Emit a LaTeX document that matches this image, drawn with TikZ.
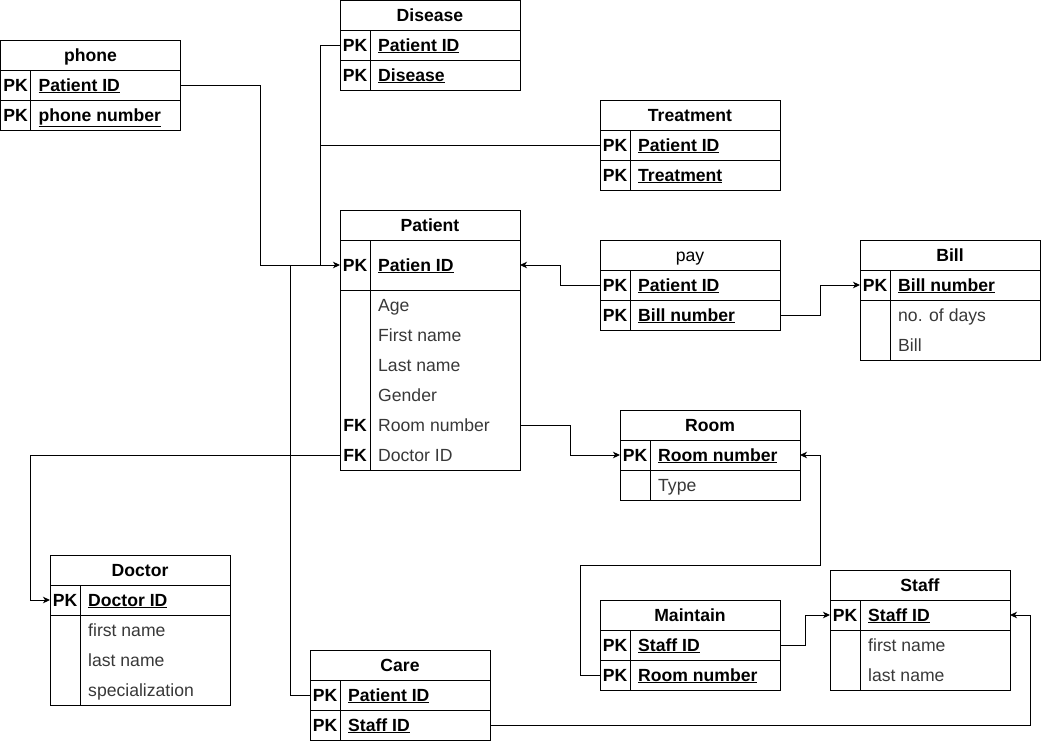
\documentclass[tikz,border=0pt]{standalone}
\usepackage{fontspec}
\setmainfont{Liberation Sans}
\usetikzlibrary{arrows.meta}
\newcommand\dfs{\fontsize{17.6}{20}\selectfont}
\tikzset{
  tbl/.style={line width=1pt},
  rowbox/.style={minimum width=180pt, minimum height=30pt, inner sep=0pt, outer sep=0pt},
  txt/.style={inner sep=0pt, text height=16pt, text depth=4pt},
  ttltxt/.style={rowbox, txt, anchor=north west, font=\dfs\bfseries},
  keytxt/.style={txt, font=\dfs\bfseries},
  pktxt/.style={txt, anchor=west, font=\dfs\bfseries},
  attxt/.style={txt, anchor=west, font=\dfs, text=black!78},
  conn/.style={line width=1pt},
  arr/.style={conn, -{Stealth[length=7pt,width=6.5pt,inset=2pt]}}
}
% x, top, title bottom, bottom
\newcommand\etab[4]{%
  \draw[tbl] (#1,#2) rectangle (#1+180,#4);
  \draw[tbl] (#1,#3) -- (#1+180,#3);
  \draw[tbl] (#1+30,#3) -- (#1+30,#4);}
% name, x, top, height, key, text
\newcommand\pkrow[6]{%
  \node[rowbox, minimum height=#4, anchor=north west] (#1) at (#2,#3) {};
  \node[keytxt] at ([xshift=15pt]#1.west) {#5};
  \node[pktxt] at ([xshift=38pt]#1.west) {\underline{#6}};}
% name, x, top, key, text
\newcommand\atrow[5]{%
  \node[rowbox, anchor=north west] (#1) at (#2,#3) {};
  \node[keytxt] at ([xshift=15pt]#1.west) {#4};
  \node[attxt] at ([xshift=38pt]#1.west) {#5};}
\begin{document}
\begin{tikzpicture}[x=1pt,y=-1pt,font=\dfs]
\useasboundingbox (0,0) rectangle (1041,742);
% ---------- phone
\etab{0.5}{40}{70}{130}
\draw[tbl] (0.5,100) -- (180.5,100);
\node[ttltxt] (phone) at (0.5,40) {phone};
\pkrow{phone-pid}{0.5}{70}{30pt}{PK}{Patient ID}
\pkrow{phone-num}{0.5}{100}{30pt}{PK}{phone number}
% ---------- Disease
\etab{340}{0.5}{30}{90}
\draw[tbl] (340,60) -- (520,60);
\node[ttltxt] (disease) at (340,0) {Disease};
\pkrow{dis-pid}{340}{30}{30pt}{PK}{Patient ID}
\pkrow{dis-dis}{340}{60}{30pt}{PK}{Disease}
% ---------- Treatment
\etab{600}{100}{130}{190}
\draw[tbl] (600,160) -- (780,160);
\node[ttltxt] (treatment) at (600,100) {Treatment};
\pkrow{tr-pid}{600}{130}{30pt}{PK}{Patient ID}
\pkrow{tr-tr}{600}{160}{30pt}{PK}{Treatment}
% ---------- Patient
\etab{340}{210}{240}{470}
\draw[tbl] (340,290) -- (520,290);
\node[ttltxt] (patient) at (340,210) {Patient};
\pkrow{pat-pk}{340}{240}{50pt}{PK}{Patien ID}
\atrow{pat-age}{340}{290}{}{Age}
\atrow{pat-fn}{340}{320}{}{First name}
\atrow{pat-ln}{340}{350}{}{Last name}
\atrow{pat-gen}{340}{380}{}{Gender}
\atrow{pat-room}{340}{410}{FK}{Room number}
\atrow{pat-doc}{340}{440}{FK}{Doctor ID}
% ---------- pay
\etab{600}{240}{270}{330}
\draw[tbl] (600,300) -- (780,300);
\node[ttltxt, font=\dfs\mdseries] (pay) at (600,240) {pay};
\pkrow{pay-pid}{600}{270}{30pt}{PK}{Patient ID}
\pkrow{pay-bill}{600}{300}{30pt}{PK}{Bill number}
% ---------- Bill
\etab{860}{240}{270}{360}
\draw[tbl] (860,300) -- (1040,300);
\node[ttltxt] (bill) at (860,240) {Bill};
\pkrow{bill-pk}{860}{270}{30pt}{PK}{Bill number}
\atrow{bill-days}{860}{300}{}{no. of days}
\atrow{bill-bill}{860}{330}{}{Bill}
% ---------- Room
\etab{620}{410}{440}{500}
\draw[tbl] (620,470) -- (800,470);
\node[ttltxt] (room) at (620,410) {Room};
\pkrow{room-pk}{620}{440}{30pt}{PK}{Room number}
\atrow{room-type}{620}{470}{}{Type}
% ---------- Doctor
\etab{50}{555}{585}{705}
\draw[tbl] (50,615) -- (230,615);
\node[ttltxt] (doctor) at (50,555) {Doctor};
\pkrow{doc-pk}{50}{585}{30pt}{PK}{Doctor ID}
\atrow{doc-fn}{50}{615}{}{first name}
\atrow{doc-ln}{50}{645}{}{last name}
\atrow{doc-sp}{50}{675}{}{specialization}
% ---------- Care
\etab{310}{650}{680}{740}
\draw[tbl] (310,710) -- (490,710);
\node[ttltxt] (care) at (310,650) {Care};
\pkrow{care-pid}{310}{680}{30pt}{PK}{Patient ID}
\pkrow{care-staff}{310}{710}{30pt}{PK}{Staff ID}
% ---------- Maintain
\etab{600}{600}{630}{690}
\draw[tbl] (600,660) -- (780,660);
\node[ttltxt] (maintain) at (600,600) {Maintain};
\pkrow{mt-staff}{600}{630}{30pt}{PK}{Staff ID}
\pkrow{mt-room}{600}{660}{30pt}{PK}{Room number}
% ---------- Staff
\etab{830}{570}{600}{690}
\draw[tbl] (830,630) -- (1010,630);
\node[ttltxt] (staff) at (830,570) {Staff};
\pkrow{staff-pk}{830}{600}{30pt}{PK}{Staff ID}
\atrow{staff-fn}{830}{630}{}{first name}
\atrow{staff-ln}{830}{660}{}{last name}
% ---------- connectors
\coordinate (j1) at (320,265);
\coordinate (j2) at (30,455);
\coordinate (j3) at (580,565);
\coordinate (j4) at (820,565);
\coordinate (j5) at (1030,725);
\draw[arr] (phone-pid.east) -- ++(80,0) |- (pat-pk.west);
\draw[conn] (dis-pid.west) -| (j1);
\draw[conn] (tr-pid.west) -- (tr-pid.west -| j1);
\draw[conn] (care-pid.west) -- ++(-20,0) |- (j1);
\draw[arr] (pay-pid.west) -- ++(-40,0) |- (pat-pk.east);
\draw[arr] (pay-bill.east) -- ++(40,0) |- (bill-pk.west);
\draw[arr] (pat-room.east) -- ++(50,0) |- (room-pk.west);
\draw[arr] (pat-doc.west) -- (j2) |- (doc-pk.west);
\draw[arr] (mt-room.west) -- (mt-room.west -| j3) -- (j3) -- (j4) |- (room-pk.east);
\draw[arr] (mt-staff.east) -- ++(25,0) |- (staff-pk.west);
\draw[arr] (care-staff.east) -- (j5) |- (staff-pk.east);
\end{tikzpicture}
\end{document}
